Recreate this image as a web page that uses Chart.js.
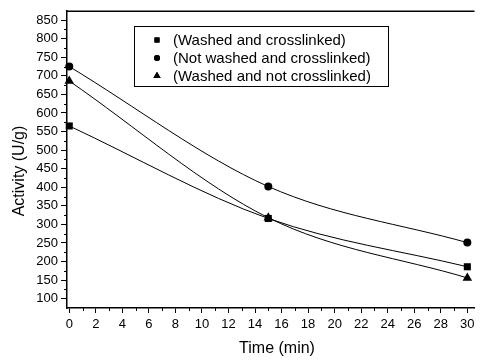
<!DOCTYPE html>
<html><head><meta charset="utf-8">
<script src="https://cdn.jsdelivr.net/npm/chart.js@4/dist/chart.umd.min.js"></script>
<style>html,body{margin:0;padding:0;background:#fff}canvas{display:block}</style>
</head><body>
<canvas id="c" width="480" height="361"></canvas>
<script>
const times = [0, 15, 30];
const washedCrosslinked = [565, 316, 186];
const notWashedCrosslinked = [725, 402, 251];
const washedNotCrosslinked = [686, 318, 156];
const seriesLabels = ['(Washed and crosslinked)', '(Not washed and crosslinked)', '(Washed and not crosslinked)'];
const xTicks = [0, 2, 4, 6, 8, 10, 12, 14, 16, 18, 20, 22, 24, 26, 28, 30];
const xMinorTicks = [1, 3, 5, 7, 9, 11, 13, 15, 17, 19, 21, 23, 25, 27, 29];
const yTicks = [100, 150, 200, 250, 300, 350, 400, 450, 500, 550, 600, 650, 700, 750, 800, 850];
const yMinorTicks = [125, 175, 225, 275, 325, 375, 425, 475, 525, 575, 625, 675, 725, 775, 825];
const xTitle = 'Time (min)';
const yTitle = 'Activity (U/g)';

const FONT = '"Liberation Sans", Arial, sans-serif';
const styles = [
  {pointStyle: 'rect', radius: 5, legendRadius: 3.6},
  {pointStyle: 'circle', radius: 4, legendRadius: 3},
  {pointStyle: 'triangle', radius: 5.5, legendRadius: 4.2}
];
const seriesValues = [washedCrosslinked, notWashedCrosslinked, washedNotCrosslinked];

const datasets = seriesValues.map((vals, i) => ({
  label: seriesLabels[i],
  data: times.map((t, j) => ({x: t, y: vals[j]})),
  borderColor: '#000',
  backgroundColor: '#000',
  borderWidth: 1,
  pointStyle: styles[i].pointStyle,
  pointRadius: styles[i].radius,
  pointBorderWidth: 0,
  pointBackgroundColor: '#000',
  cubicInterpolationMode: 'monotone',
  fill: false,
  clip: false
}));

const extras = {
  id: 'extras',
  afterDraw(chart) {
    const ctx = chart.ctx;
    const {left, right, top, bottom} = chart.chartArea;
    const xs = chart.scales.x, ys = chart.scales.y;
    ctx.save();
    ctx.strokeStyle = '#000';
    ctx.lineWidth = 1;
    ctx.beginPath();
    xMinorTicks.forEach(v => {
      const px = Math.round(xs.getPixelForValue(v)) + 0.5;
      ctx.moveTo(px, bottom);
      ctx.lineTo(px, bottom + 3);
    });
    yMinorTicks.forEach(v => {
      const py = Math.round(ys.getPixelForValue(v)) + 0.5;
      ctx.moveTo(left, py);
      ctx.lineTo(left - 3, py);
    });
    ctx.stroke();
    // top frame
    ctx.lineWidth = 1.5;
    ctx.beginPath();
    ctx.moveTo(left, top + 0.5);
    ctx.lineTo(right, top + 0.5);
    ctx.stroke();
    // legend box
    ctx.lineWidth = 1;
    ctx.strokeRect(134.5, 26.5, 254, 60);
    ctx.font = '15px ' + FONT;
    ctx.fillStyle = '#000';
    ctx.textBaseline = 'middle';
    ctx.textAlign = 'left';
    const rowsY = [40, 58, 76];
    chart.data.datasets.forEach((ds, i) => {
      Chart.helpers.drawPoint(ctx, {pointStyle: styles[i].pointStyle, radius: styles[i].legendRadius, rotation: 0, borderWidth: 0}, 157, rowsY[i]);
      ctx.fillStyle = '#000';
      ctx.fill();
      ctx.fillText(ds.label, 173, rowsY[i] + 1);
    });
    // axis titles
    ctx.font = '16px ' + FONT;
    ctx.textAlign = 'center';
    ctx.fillText(xTitle, 277, 349);
    ctx.translate(20, 171);
    ctx.rotate(-Math.PI / 2);
    ctx.fillText(yTitle, 0, 0);
    ctx.restore();
  }
};

new Chart(document.getElementById('c'), {
  type: 'line',
  data: {datasets},
  plugins: [extras],
  options: {
    responsive: false,
    animation: false,
    events: [],
    layout: {padding: {top: 8, right: 0, left: 0, bottom: 0}},
    plugins: {legend: {display: false}, tooltip: {enabled: false}, title: {display: false}},
    scales: {
      x: {
        type: 'linear',
        min: -0.17,
        max: 30.54,
        afterBuildTicks: s => { s.ticks = xTicks.map(v => ({value: v})); },
        afterFit: s => { s.height = 53; },
        grid: {drawOnChartArea: false, tickLength: 5, color: '#000', tickColor: '#000', tickWidth: 1},
        border: {color: '#000', width: 1.5},
        ticks: {font: {family: FONT, size: 13}, color: '#000', padding: 4, maxRotation: 0, autoSkip: false}
      },
      y: {
        type: 'linear',
        min: 75,
        max: 875,
        afterBuildTicks: s => { s.ticks = yTicks.map(v => ({value: v})); },
        afterFit: s => { s.width = 67; },
        grid: {drawOnChartArea: false, tickLength: 6, color: '#000', tickColor: '#000', tickWidth: 1},
        border: {color: '#000', width: 1.5},
        ticks: {font: {family: FONT, size: 13}, color: '#000', padding: 3, autoSkip: false}
      }
    }
  }
});
</script>
</body></html>
